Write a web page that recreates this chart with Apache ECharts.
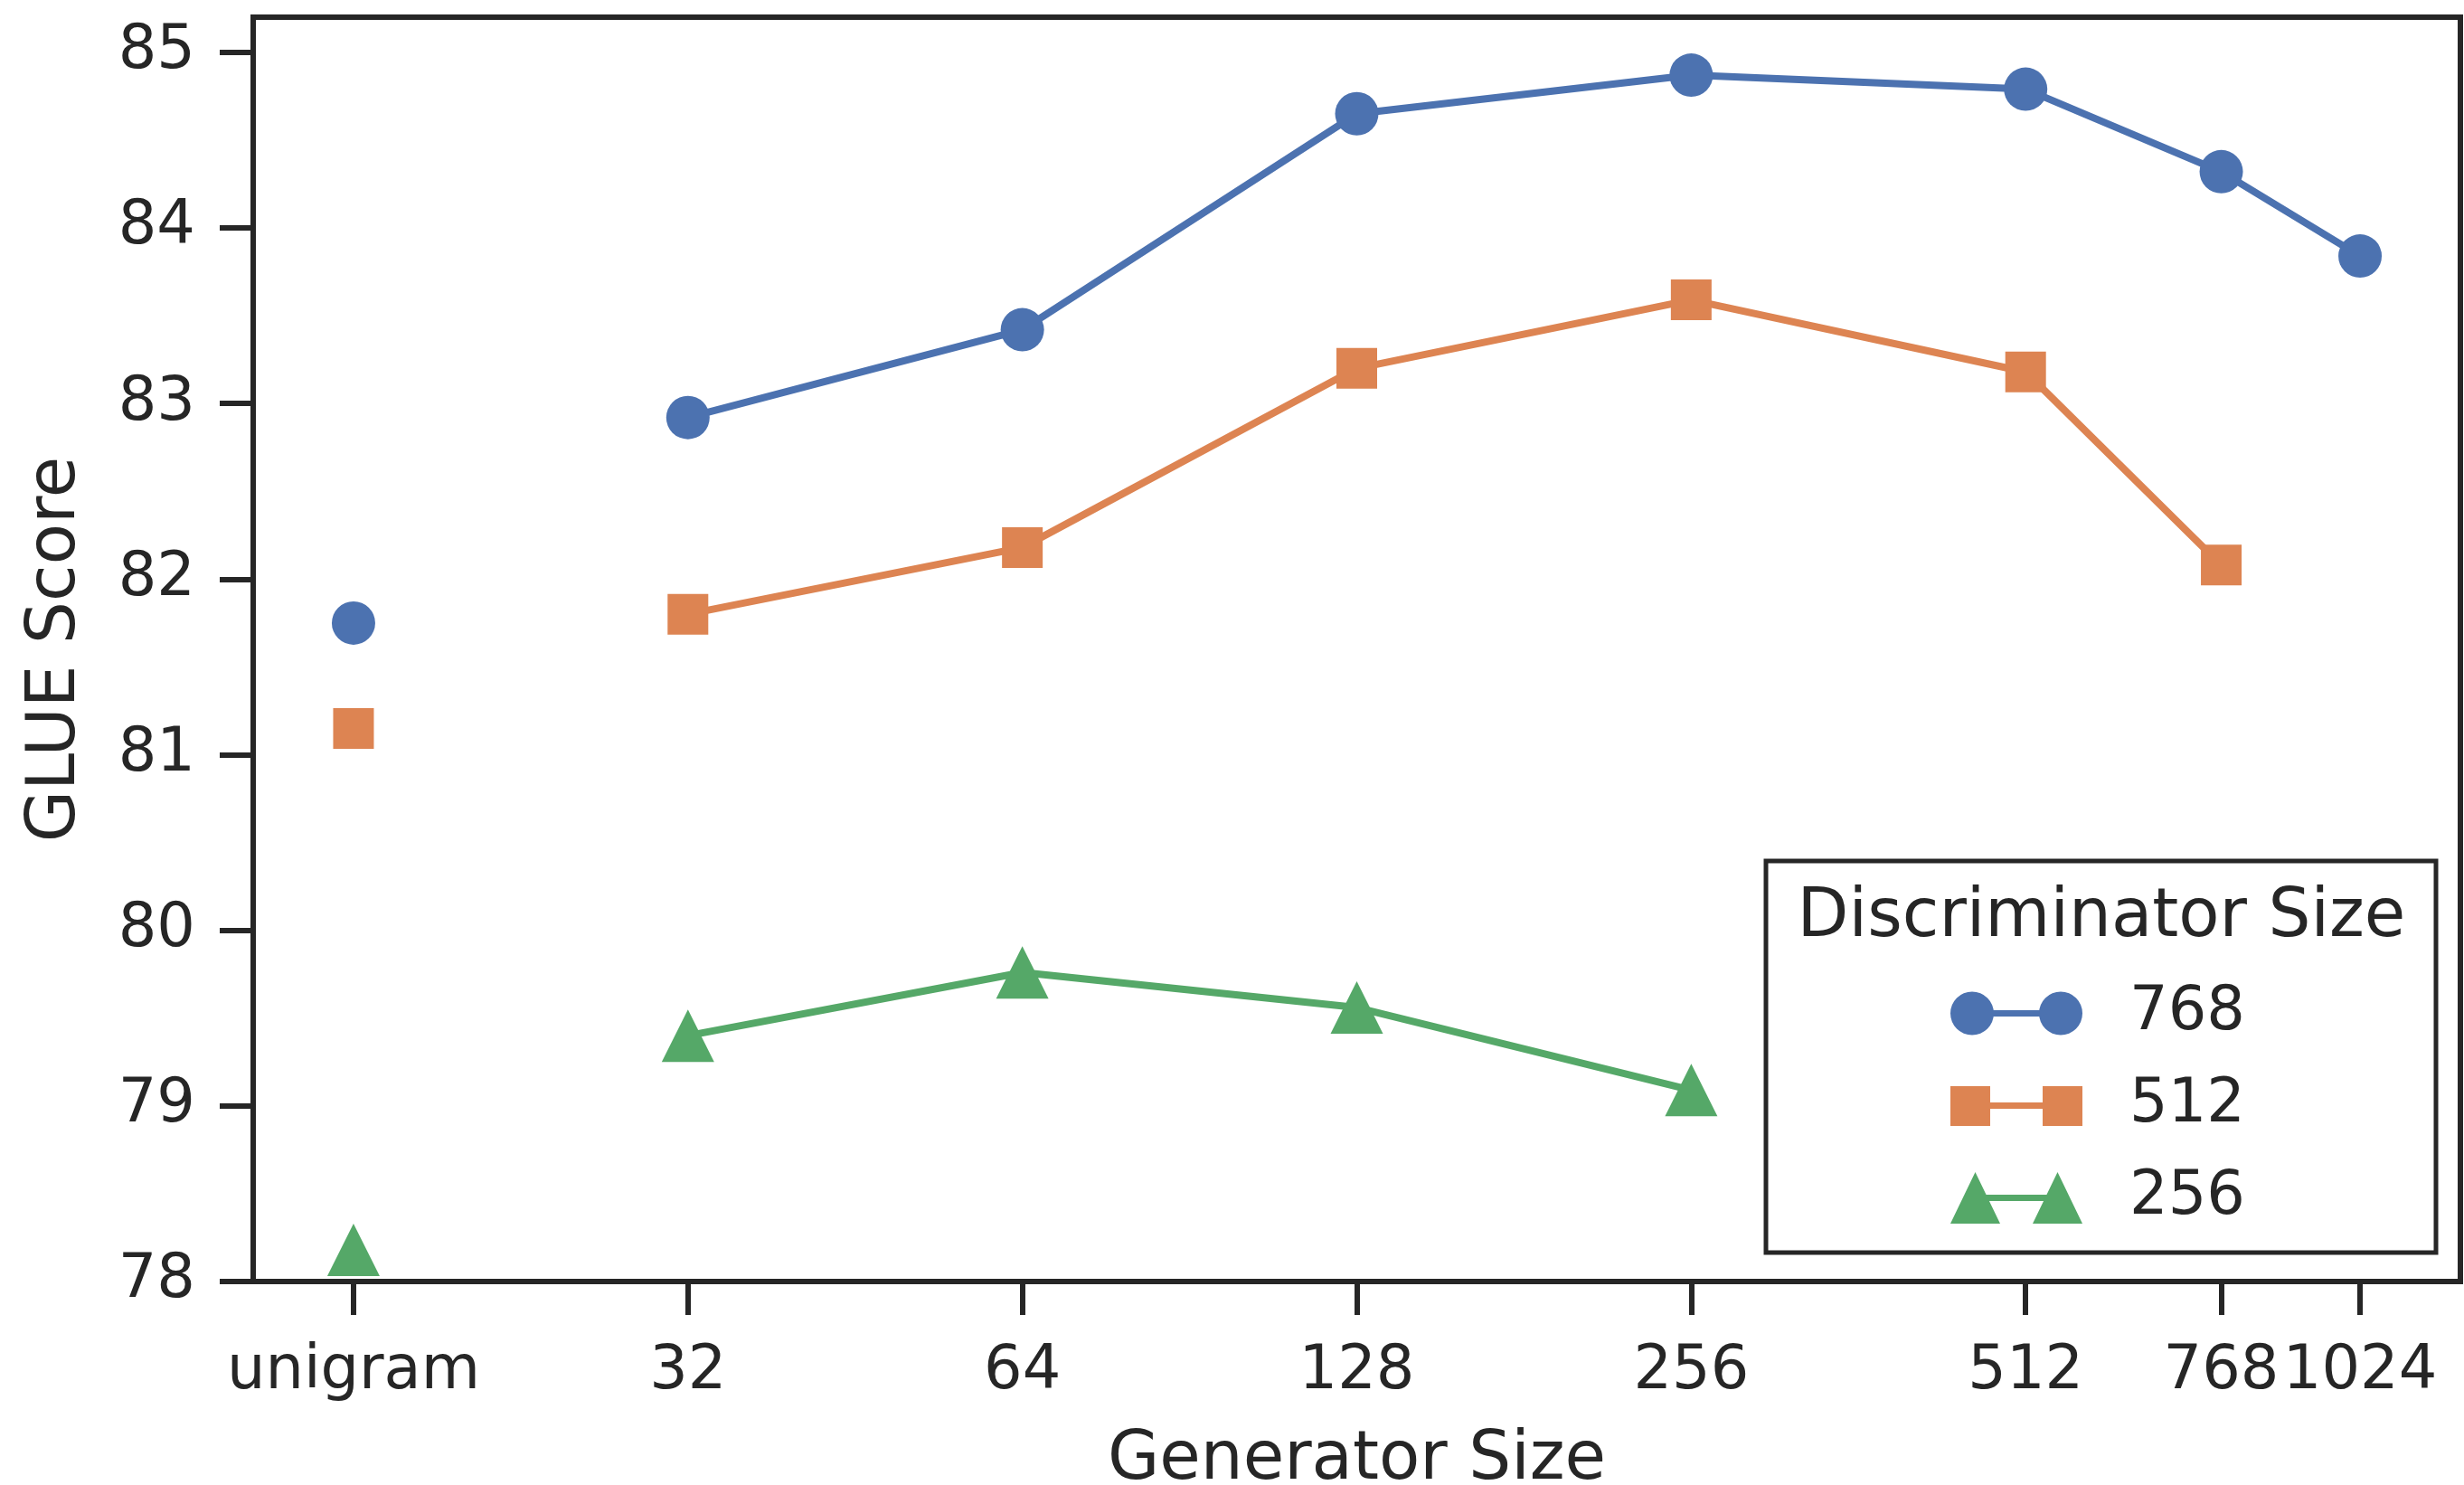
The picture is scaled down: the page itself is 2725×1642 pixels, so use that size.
<!DOCTYPE html>
<html>
<head>
<meta charset="utf-8">
<script src="https://cdn.jsdelivr.net/npm/echarts@6/dist/echarts.min.js"></script>
<style>
  html, body { margin: 0; background: #fff; }
  #chart { width: 2725px; height: 1642px; }
</style>
</head>
<body>
<div id="chart"></div>
<script>
(function() {
  var ink = '#262626';
  var font = 'DejaVu Sans';

  // generator sizes; unigram sits one doubling left of 32
  var genLabels = ['unigram', '32', '64', '128', '256', '512', '768', '1024'];
  var genSizes = [16, 32, 64, 128, 256, 512, 768, 1024];

  // GLUE score per discriminator size (first value = unigram)
  var discSizes = ['768', '512', '256'];
  var glue768 = [81.75, 82.92, 83.42, 84.65, 84.87, 84.79, 84.32, 83.84];
  var glue512 = [81.15, 81.80, 82.18, 83.20, 83.59, 83.18, 82.08];
  var glue256 = [78.18, 79.40, 79.76, 79.56, 79.09];
  var yTicks = [78, 79, 80, 81, 82, 83, 84, 85];

  var colors = ['#4C72B0', '#DD8452', '#55A868'];
  var symbols = ['circle', 'rect', 'triangle'];
  var symbolSizes = [48, 45, [58, 58]];

  // legend icons: marker - line - marker (matplotlib style), same bbox 193x57
  var box = ' M0,0 L0.01,0 M193,57 L192.99,57';
  var icons = [
    'path://M0,28.5 A24,24 0 1,1 48,28.5 A24,24 0 1,1 0,28.5 Z M98,28.5 A24,24 0 1,1 146,28.5 A24,24 0 1,1 98,28.5 Z M46,25 L100,25 L100,32 L46,32 Z' + box,
    'path://M0,7 L44,7 L44,51 L0,51 Z M102,7 L146,7 L146,51 L102,51 Z M43,25 L103,25 L103,32 L43,32 Z' + box,
    'path://M27.5,0 L55,57 L0,57 Z M118.5,0 L146,57 L91,57 Z M38,25 L108,25 L108,32 L38,32 Z' + box
  ];

  var xPos = genSizes.map(function(s) { return Math.log2(s); });
  var allScores = [glue768, glue512, glue256];

  var series = [];
  discSizes.forEach(function(name, k) {
    var vals = allScores[k];
    var lineData = [];
    for (var i = 1; i < vals.length; i++) lineData.push([xPos[i], vals[i]]);
    series.push({
      name: name,
      type: 'line',
      data: lineData,
      symbol: symbols[k],
      symbolSize: symbolSizes[k],
      showSymbol: true,
      color: colors[k],
      lineStyle: { color: colors[k], width: 8 },
      itemStyle: { color: colors[k], borderWidth: 0, opacity: 1 },
      z: 3 + k
    });
    series.push({
      name: name,
      type: 'scatter',
      data: [[xPos[0], vals[0]]],
      symbol: symbols[k],
      symbolSize: symbolSizes[k],
      itemStyle: { color: colors[k], borderWidth: 0, opacity: 1 },
      z: 3 + k
    });
  });

  var chart = echarts.init(document.getElementById('chart'), null, { renderer: 'canvas' });
  chart.setOption({
    animation: false,
    backgroundColor: '#fff',
    textStyle: { fontFamily: font, color: ink },
    grid: {
      left: 280, right: 4, top: 19, bottom: 225,
      show: true, borderColor: ink, borderWidth: 6,
      outerBoundsMode: 'none'
    },
    xAxis: {
      type: 'value',
      min: 3.7,
      max: 10.3,
      name: 'Generator Size',
      nameLocation: 'middle',
      nameGap: 162,
      nameTextStyle: { fontSize: 74, color: ink, fontFamily: font },
      axisLine: { show: true, lineStyle: { color: ink, width: 6 } },
      axisTick: { show: true, length: 37, lineStyle: { color: ink, width: 6 }, customValues: xPos },
      axisLabel: {
        customValues: xPos,
        fontSize: 67, color: ink, fontFamily: font, margin: 67,
        formatter: function(v) {
          for (var i = 0; i < xPos.length; i++) if (Math.abs(xPos[i] - v) < 1e-6) return genLabels[i];
          return '';
        }
      },
      splitLine: { show: false }
    },
    yAxis: {
      type: 'value',
      min: 78,
      max: 85.2,
      name: 'GLUE Score',
      nameLocation: 'middle',
      nameGap: 180,
      nameTextStyle: { fontSize: 74, color: ink, fontFamily: font },
      axisLine: { show: true, lineStyle: { color: ink, width: 6 } },
      axisTick: { show: true, length: 37, lineStyle: { color: ink, width: 6 }, customValues: yTicks },
      axisLabel: { customValues: yTicks, fontSize: 67, color: ink, fontFamily: font, margin: 64 },
      splitLine: { show: false }
    },
    legend: {
      orient: 'vertical',
      left: 2157,
      top: 1087,
      itemWidth: 193,
      itemHeight: 57,
      itemGap: 35,
      padding: 0,
      z: 20,
      selectedMode: false,
      itemStyle: { borderWidth: 0 },
      textStyle: { fontSize: 67, color: ink, fontFamily: font, padding: 0 },
      data: discSizes.map(function(n, k) { return { name: n, icon: icons[k] }; })
    },
    graphic: [
      {
        type: 'rect',
        shape: { x: 1953, y: 952, width: 741, height: 433 },
        style: { fill: '#fff', stroke: ink, lineWidth: 5 },
        z: 10
      },
      {
        type: 'text',
        x: 2324, y: 1016,
        style: { text: 'Discriminator Size', fontSize: 74, fontFamily: font, fill: ink, align: 'center', verticalAlign: 'middle' },
        z: 11
      }
    ],
    series: series
  });
  window.addEventListener('resize', function() { chart.resize(); });
})();
</script>
</body>
</html>
